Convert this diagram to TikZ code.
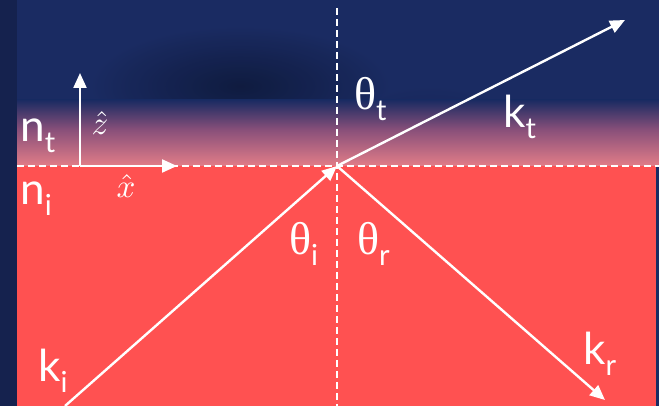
\documentclass[tikz,border=0pt]{standalone}
\usepackage{fontspec}
\setmainfont{Lato}
\newfontfamily\thetafont{Liberation Serif}
\usetikzlibrary{arrows.meta}
\definecolor{navy}{HTML}{1A2B62}
\definecolor{navydark}{HTML}{0F1A3C}
\definecolor{navystrip}{HTML}{15224E}
\definecolor{pinkint}{HTML}{E27D88}
\definecolor{purp}{HTML}{8A507A}
\definecolor{redmed}{HTML}{FF5151}
\newcommand{\biglab}[2]{{\fontsize{44}{44}\selectfont #1}\raisebox{-11pt}{\fontsize{29}{29}\selectfont #2}}
\newcommand{\thlab}[1]{{\fontsize{46}{46}\selectfont\thetafont θ}\raisebox{-11pt}{\fontsize{29}{29}\selectfont #1}}
\tikzset{
  ray/.style={white, line width=2.4pt, -{Triangle[length=15pt,width=13pt]}},
  axis/.style={white, line width=2.2pt, -{Triangle[length=15pt,width=13pt]}},
  guide/.style={white, line width=1.8pt, dash pattern=on 7pt off 4pt},
  lab/.style={white, inner sep=0pt, anchor=base west},
  hatlab/.style={white, inner sep=0pt},
}
\begin{document}
\begin{tikzpicture}[x=1pt,y=1pt]
\useasboundingbox (0,0) rectangle (659,406);
% background
\fill[navy] (0,0) rectangle (659,406);
\shade[inner color=navydark, outer color=navy, opacity=0.9] (240,320) ellipse [x radius=150, y radius=60];
\shade[inner color=navydark, outer color=navy, opacity=0.6] (430,230) ellipse [x radius=120, y radius=90];
\fill[navystrip] (0,0) rectangle (17,406);
% transition gradient
\shade[bottom color=pinkint, top color=purp] (17,240) rectangle (659,276);
\shade[bottom color=purp, top color=navy] (17,276) rectangle (659,306);
% medium
\fill[redmed] (17,0) rectangle (656,240);
% coordinates
\coordinate (O) at (337,240);
\coordinate (Ki) at (65,0);
\coordinate (Kr) at (605,6);
\coordinate (Kt) at (625,386);
\coordinate (A) at (80,240);
\coordinate (Az) at (80,333);
\coordinate (Ax) at (177,240);
\coordinate (Vtop) at (337,398);
\coordinate (Vbot) at (337,0);
\coordinate (Hl) at (17,240);
\coordinate (Hr) at (659,240);
% guides
\draw[guide] (Hl) -- (Hr);
\draw[guide] (Vtop) -- (Vbot);
% axes
\draw[axis] (A) -- (Az);
\draw[axis] (A) -- (Ax);
% rays
\draw[ray] (Ki) -- (O);
\draw[ray] (O) -- (Kr);
\draw[ray] (O) -- (Kt);
% labels
\node[lab] (nt) at (20,264) {\biglab{n}{t}};
\node[lab] (ni) at (20,201) {\biglab{n}{i}};
\node[hatlab] (zh) at (100,283) {\scalebox{3.3}{$\hat{z}$}};
\node[hatlab] (xh) at (126,220) {\scalebox{3.3}{$\hat{x}$}};
\node[lab] (tht) at (354,296) {\thlab{t}};
\node[lab] (kt) at (503,278) {\biglab{k}{t}};
\node[lab] (thi) at (289,151) {\thlab{i}};
\node[lab] (thr) at (357,151) {\thlab{r}};
\node[lab] (ki) at (38,24) {\biglab{k}{i}};
\node[lab] (kr) at (583,41) {\biglab{k}{r}};
\end{tikzpicture}
\end{document}
